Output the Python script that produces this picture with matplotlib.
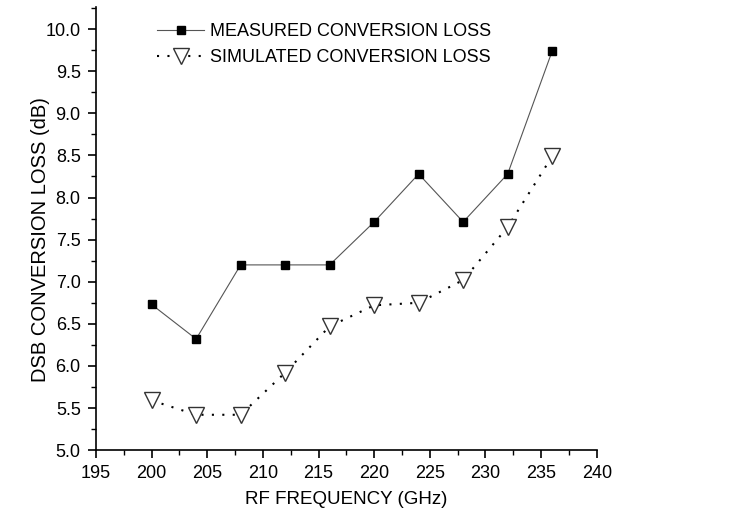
import matplotlib.pyplot as plt
from matplotlib.ticker import MultipleLocator

plt.rcParams['font.family'] = ['Liberation Sans', 'DejaVu Sans']

# RF frequency (GHz)
freq = [200, 204, 208, 212, 216, 220, 224, 228, 232, 236]
# DSB conversion loss (dB)
measured = [6.73, 6.32, 7.20, 7.20, 7.20, 7.71, 8.28, 7.71, 8.28, 9.74]
simulated = [5.59, 5.42, 5.42, 5.92, 6.47, 6.72, 6.75, 7.02, 7.65, 8.49]

fig = plt.figure(figsize=(7.44, 5.18), dpi=100)
ax = fig.add_axes([0.129, 0.131, 0.673, 0.855])

ax.plot(freq, measured, color='#555555', lw=0.8, marker='s', ms=6,
        mfc='black', mec='black', label='MEASURED CONVERSION LOSS')
ax.plot(freq, simulated, color='black', lw=1.5, ls=(0, (1, 4)), marker='v', ms=11,
        mfc='white', mec='#333333', mew=1.0, label='SIMULATED CONVERSION LOSS')

ax.set_xlim(195, 240)
ax.set_ylim(5.0, 10.26)
ax.xaxis.set_major_locator(MultipleLocator(5))
ax.xaxis.set_minor_locator(MultipleLocator(2.5))
ax.yaxis.set_major_locator(MultipleLocator(0.5))
ax.yaxis.set_minor_locator(MultipleLocator(0.25))
ax.yaxis.set_major_formatter(plt.FormatStrFormatter('%.1f'))

for s in ['top', 'right']:
    ax.spines[s].set_visible(False)
for s in ['left', 'bottom']:
    ax.spines[s].set_linewidth(1.2)
ax.tick_params(which='major', direction='out', length=6, width=1.2, labelsize=13, pad=5)
ax.tick_params(which='minor', direction='out', length=3.5, width=1.0)

ax.set_xlabel('RF FREQUENCY (GHz)', fontsize=13.5, labelpad=6)
ax.set_ylabel('DSB CONVERSION LOSS (dB)', fontsize=14.5, labelpad=-3)
ax.yaxis.label.set_y(0.475)

ax.legend(loc='upper left', bbox_to_anchor=(0.09, 1.001), frameon=False, fontsize=13,
          handlelength=2.6, handletextpad=0.3, labelspacing=0.5)

plt.savefig('out.png', dpi=100)
